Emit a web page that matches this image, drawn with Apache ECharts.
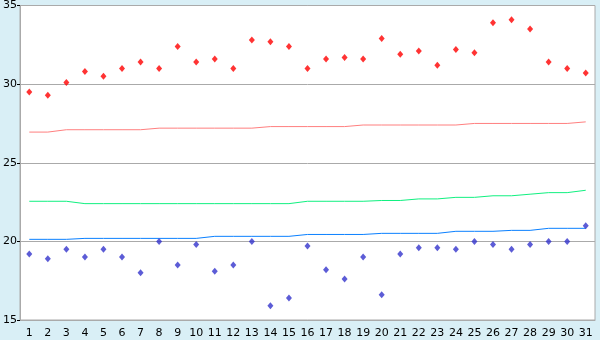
<!DOCTYPE html>
<html><head><meta charset="utf-8">
<script src="https://cdn.jsdelivr.net/npm/echarts@6/dist/echarts.min.js"></script>
<style>html,body{margin:0;padding:0;background:#d9eff6}#c{width:600px;height:340px}</style>
</head><body><div id="c"></div>
<script>
var categories = [];
for (var d = 1; d <= 31; d++) categories.push(String(d));
var highPoints = [29.5,29.3,30.1,30.8,30.5,31.0,31.4,31.0,32.4,31.4,31.6,31.0,32.8,32.7,32.4,31.0,31.6,31.7,31.6,32.9,31.9,32.1,31.2,32.2,32.0,33.9,34.1,33.5,31.4,31.0,30.7];
var lowPoints = [19.2,18.9,19.5,19.0,19.5,19.0,18.0,20.0,18.5,19.8,18.1,18.5,20.0,15.9,16.4,19.7,18.2,17.6,19.0,16.6,19.2,19.6,19.6,19.5,20.0,19.8,19.5,19.8,20.0,20.0,21.0];
var redLine = [26.95,26.95,27.1,27.1,27.1,27.1,27.1,27.2,27.2,27.2,27.2,27.2,27.2,27.3,27.3,27.3,27.3,27.3,27.4,27.4,27.4,27.4,27.4,27.4,27.5,27.5,27.5,27.5,27.5,27.5,27.6];
var greenLine = [22.55,22.55,22.55,22.4,22.4,22.4,22.4,22.4,22.4,22.4,22.4,22.4,22.4,22.4,22.4,22.55,22.55,22.55,22.55,22.6,22.6,22.7,22.7,22.8,22.8,22.9,22.9,23.0,23.1,23.1,23.25];
var blueLine = [20.13,20.13,20.13,20.19,20.19,20.19,20.19,20.19,20.19,20.19,20.32,20.32,20.32,20.32,20.32,20.44,20.44,20.44,20.44,20.51,20.51,20.51,20.51,20.64,20.64,20.64,20.7,20.7,20.83,20.83,20.83];
var yTicks = {min: 15, max: 35, interval: 5};

var chart = echarts.init(document.getElementById('c'), null, {renderer: 'canvas'});
var font = {fontFamily: 'DejaVu Sans', fontSize: 11, color: '#000'};
function lineSeries(data, color) {
  return {type: 'line', data: data, symbol: 'none', silent: true, animation: false,
    lineStyle: {color: color, width: 1}, z: 2};
}
chart.setOption({
  animation: false,
  backgroundColor: '#d9eff6',
  grid: {left: 20, right: 5, top: 5, bottom: 20, show: true, backgroundColor: '#ffffff', borderColor: '#aaaaaa', borderWidth: 1},
  xAxis: {
    type: 'category', data: categories, boundaryGap: true,
    axisLine: {lineStyle: {color: '#aaaaaa', width: 1}},
    axisTick: {alignWithLabel: true, length: 5, lineStyle: {color: '#000'}},
    axisLabel: Object.assign({margin: 8, interval: 0}, font),
    splitLine: {show: false}
  },
  yAxis: {
    type: 'value', min: yTicks.min, max: yTicks.max, interval: yTicks.interval,
    axisLine: {show: true, lineStyle: {color: '#aaaaaa', width: 1}},
    axisTick: {show: true, length: 3, lineStyle: {color: '#000'}},
    axisLabel: Object.assign({margin: 3}, font),
    splitLine: {show: true, lineStyle: {color: '#aaaaaa', width: 1}}
  },
  series: [
    lineSeries(redLine, '#ff7f7f'),
    lineSeries(greenLine, '#10f080'),
    lineSeries(blueLine, '#0a80ff'),
    {type: 'scatter', data: highPoints, symbol: 'diamond', symbolSize: [6, 7], itemStyle: {color: '#ff0000'}, z: 3},
    {type: 'scatter', data: lowPoints, symbol: 'diamond', symbolSize: [6, 7], itemStyle: {color: '#3333cc'}, z: 3}
  ]
});
</script></body></html>
